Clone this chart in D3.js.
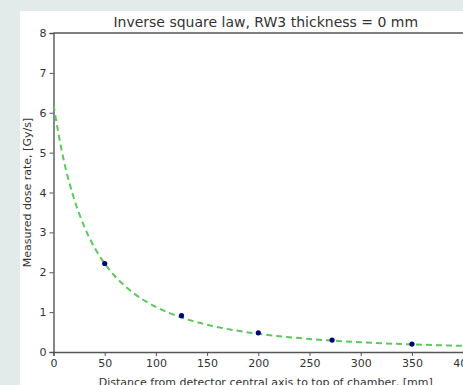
<!DOCTYPE html>
<html>
<head>
<meta charset="utf-8">
<script src="https://cdn.jsdelivr.net/npm/d3@7"></script>
<style>
  html, body { margin: 0; padding: 0; background: #e3ebea; }
  #chart { width: 463px; height: 385px; overflow: hidden; }
  text { font-family: "DejaVu Sans", sans-serif; fill: #333; }
</style>
</head>
<body>
<div id="chart"></div>
<script>
// measured points
const distances = [50, 125, 200, 272, 350];
const doseRates = [2.22, 0.91, 0.48, 0.30, 0.20];

// fitted inverse square curve
const fitX = [0, 10, 20, 30, 40, 50, 60, 75, 100, 125, 150, 175, 200, 250, 300, 350, 400, 414];
const fitY = [6.19, 4.81, 3.85, 3.15, 2.62, 2.22, 1.90, 1.54, 1.13, 0.865, 0.683, 0.553, 0.457, 0.327, 0.245, 0.191, 0.153, 0.144];

const xTicks = [0, 50, 100, 150, 200, 250, 300, 350, 400];
const yTicks = [0, 1, 2, 3, 4, 5, 6, 7, 8];

const width = 463, height = 385;
const plotLeft = 53.5, plotRight = 478, plotTop = 33, plotBottom = 352;

const svg = d3.select("#chart")
  .append("svg")
  .attr("width", width)
  .attr("height", height);

// white figure panel
svg.append("rect")
  .attr("x", 20).attr("y", 11)
  .attr("width", width).attr("height", height)
  .attr("fill", "#fff");

const x = d3.scaleLinear().domain([0, 414.5]).range([plotLeft, plotRight]);
const y = d3.scaleLinear().domain([0, 8]).range([plotBottom, plotTop]);

const xAxis = svg.append("g")
  .attr("transform", `translate(0,${plotBottom})`)
  .call(d3.axisBottom(x).tickValues(xTicks).tickSize(4).tickPadding(3));

const yAxis = svg.append("g")
  .attr("transform", `translate(${plotLeft},0)`)
  .call(d3.axisLeft(y).tickValues(yTicks).tickSize(4).tickPadding(3));

[xAxis, yAxis].forEach(g => {
  g.selectAll("text").style("font-size", "11px").attr("fill", "#333");
  g.selectAll("line").attr("stroke", "#555");
  g.select(".domain").attr("stroke", "#555").attr("stroke-width", 1.4);
});

// top spine
svg.append("line")
  .attr("x1", plotLeft).attr("x2", plotRight)
  .attr("y1", plotTop).attr("y2", plotTop)
  .attr("stroke", "#555").attr("stroke-width", 1.4);

svg.append("clipPath").attr("id", "plot")
  .append("rect")
  .attr("x", plotLeft).attr("y", plotTop)
  .attr("width", plotRight - plotLeft).attr("height", plotBottom - plotTop);

const line = d3.line()
  .x(d => x(d[0]))
  .y(d => y(d[1]))
  .curve(d3.curveMonotoneX);

svg.append("path")
  .datum(fitX.map((v, i) => [v, fitY[i]]))
  .attr("clip-path", "url(#plot)")
  .attr("d", line)
  .attr("fill", "none")
  .attr("stroke", "#5cc85c")
  .attr("stroke-width", 2)
  .attr("stroke-dasharray", "6,4");

svg.selectAll(".pt")
  .data(distances.map((v, i) => [v, doseRates[i]]))
  .enter().append("circle")
  .attr("class", "pt")
  .attr("cx", d => x(d[0]))
  .attr("cy", d => y(d[1]))
  .attr("r", 2.6)
  .attr("fill", "#00007a");

svg.append("text")
  .attr("x", (plotLeft + plotRight) / 2)
  .attr("y", 27)
  .attr("text-anchor", "middle")
  .style("font-size", "14px")
  .text("Inverse square law, RW3 thickness = 0 mm");

svg.append("text")
  .attr("x", (plotLeft + plotRight) / 2)
  .attr("y", 386)
  .attr("text-anchor", "middle")
  .style("font-size", "11px")
  .text("Distance from detector central axis to top of chamber, [mm]");

svg.append("text")
  .attr("transform", `translate(31,${(plotTop + plotBottom) / 2}) rotate(-90)`)
  .attr("text-anchor", "middle")
  .style("font-size", "11px")
  .text("Measured dose rate, [Gy/s]");
</script>
</body>
</html>
